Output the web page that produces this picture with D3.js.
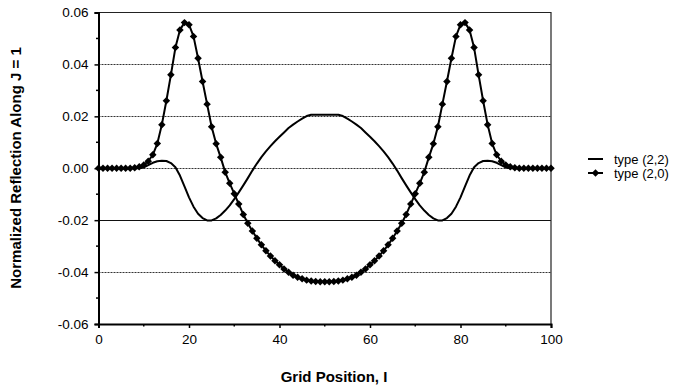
<!DOCTYPE html>
<html>
<head>
<meta charset="utf-8">
<script src="https://cdn.jsdelivr.net/npm/d3@7"></script>
<style>
  html, body { margin: 0; padding: 0; background: #fff; }
  svg { display: block; }
  text { font-family: "Liberation Sans", Arial, Helvetica, sans-serif; fill: #000; }
</style>
</head>
<body>
<svg id="chart" width="676" height="388"></svg>
<script>
// Grid position I = 0..100
const gridPositions = d3.range(0, 101);

// Normalized reflection along J = 1, type (2,2) boundary
const type22 = [
  0, 0, 0, 0, 0, 0, 0, 0, 0, 0,
  0.0003, 0.0012, 0.0021, 0.0027, 0.0029, 0.0028, 0.0020, 0.0004, -0.0028, -0.0070,
  -0.0112, -0.0148, -0.0175, -0.0192, -0.0201, -0.0201, -0.0193, -0.0180, -0.0163, -0.0143,
  -0.0119, -0.0093, -0.0066, -0.0038, -0.0009, 0.0018, 0.0043, 0.0065, 0.0085, 0.0104,
  0.0121, 0.0138, 0.0155, 0.0168, 0.0180, 0.0191, 0.0201, 0.0206, 0.0206, 0.0206,
  0.0206,
  0.0206, 0.0206, 0.0206, 0.0201, 0.0191, 0.0180, 0.0168, 0.0155, 0.0138, 0.0121,
  0.0104, 0.0085, 0.0065, 0.0043, 0.0018, -0.0009, -0.0038, -0.0066, -0.0093, -0.0119,
  -0.0143, -0.0163, -0.0180, -0.0193, -0.0201, -0.0201, -0.0192, -0.0175, -0.0148, -0.0112,
  -0.0070, -0.0028, 0.0004, 0.0020, 0.0028, 0.0029, 0.0027, 0.0021, 0.0012, 0.0003,
  0, 0, 0, 0, 0, 0, 0, 0, 0, 0
];

// Normalized reflection along J = 1, type (2,0) boundary
const type20 = [
  0, 0, 0, 0, 0, 0, 0, 0, 0.0002, 0.0006,
  0.0013, 0.0027, 0.0052, 0.0095, 0.0168, 0.0260, 0.0360, 0.0465, 0.0533, 0.0561,
  0.0553, 0.0508, 0.0424, 0.0334, 0.0247, 0.0160, 0.0094, 0.0042, -0.0015, -0.0058,
  -0.0098, -0.0138, -0.0178, -0.0212, -0.0242, -0.0270, -0.0295, -0.0318, -0.0338, -0.0356,
  -0.0372, -0.0388, -0.0401, -0.0412, -0.0420, -0.0426, -0.0431, -0.0434, -0.0436, -0.0437,
  -0.0437,
  -0.0437, -0.0436, -0.0434, -0.0431, -0.0426, -0.0420, -0.0412, -0.0401, -0.0388, -0.0372,
  -0.0356, -0.0338, -0.0318, -0.0295, -0.0270, -0.0242, -0.0212, -0.0178, -0.0138, -0.0098,
  -0.0058, -0.0015, 0.0042, 0.0094, 0.0160, 0.0247, 0.0334, 0.0424, 0.0508, 0.0553,
  0.0561, 0.0533, 0.0465, 0.0360, 0.0260, 0.0168, 0.0095, 0.0052, 0.0027, 0.0013,
  0.0006, 0.0002, 0, 0, 0, 0, 0, 0, 0, 0
];

const xTicks = [0, 20, 40, 60, 80, 100];
const xMinorTicks = [10, 30, 50, 70, 90];
const yTicks = [-0.06, -0.04, -0.02, 0.00, 0.02, 0.04, 0.06];
const yTickLabels = ["-0.06", "-0.04", "-0.02", "0.00", "0.02", "0.04", "0.06"];
const yMinorTicks = [-0.05, -0.03, -0.01, 0.01, 0.03, 0.05];
const seriesNames = ["type (2,2)", "type (2,0)"];

const svg = d3.select("#chart");
const plotLeft = 98.5, plotRight = 551, plotTop = 12.5, plotBottom = 324;

const x = d3.scaleLinear().domain([0, 100]).range([plotLeft, plotRight]);
const y = d3.scaleLinear().domain([-0.06, 0.06]).range([plotBottom, plotTop]);

// horizontal grid lines
const grid = svg.append("g");
grid.selectAll("line")
  .data(yTicks.filter(v => Math.abs(v) < 0.059))
  .join("line")
  .attr("x1", plotLeft).attr("x2", plotRight)
  .attr("y1", d => Math.round(y(d)) + 0.5).attr("y2", d => Math.round(y(d)) + 0.5)
  .attr("stroke", d => Math.abs(d + 0.02) < 1e-9 ? "#111" : "#333")
  .attr("stroke-width", 1)
  .attr("stroke-dasharray", d => Math.abs(d + 0.02) < 1e-9 ? null : "2,1");

// frame: top and right edges
svg.append("path")
  .attr("d", `M${plotLeft},${plotTop}H${plotRight}V${plotBottom}`)
  .attr("fill", "none").attr("stroke", "#222").attr("stroke-width", 1.2);

// axes
const xAxis = d3.axisBottom(x).tickValues(xTicks).tickSize(4).tickPadding(6)
  .tickFormat(d3.format("d"));
const gx = svg.append("g").attr("transform", `translate(0,${plotBottom})`).call(xAxis);
gx.select(".domain").attr("stroke-width", 2);
gx.selectAll(".tick line").attr("stroke-width", 1.5);
gx.selectAll(".tick text").attr("font-size", 13.5).attr("font-family", null);

svg.append("g").attr("transform", `translate(0,${plotBottom})`)
  .selectAll("line").data(xMinorTicks).join("line")
  .attr("x1", d => x(d)).attr("x2", d => x(d))
  .attr("y1", 0).attr("y2", 2.5)
  .attr("stroke", "#000").attr("stroke-width", 1.5);

const yAxis = d3.axisLeft(y).tickValues(yTicks).tickSize(4).tickPadding(6)
  .tickFormat((d, i) => yTickLabels[i]);
const gy = svg.append("g").attr("transform", `translate(${plotLeft},0)`).call(yAxis);
gy.select(".domain").attr("stroke-width", 2);
gy.selectAll(".tick line").attr("stroke-width", 1.5);
gy.selectAll(".tick text").attr("font-size", 13.5).attr("font-family", null);

svg.append("g").attr("transform", `translate(${plotLeft},0)`)
  .selectAll("line").data(yMinorTicks).join("line")
  .attr("x1", -2.5).attr("x2", 0)
  .attr("y1", d => y(d)).attr("y2", d => y(d))
  .attr("stroke", "#000").attr("stroke-width", 1.5);

svg.selectAll(".domain").attr("stroke", "#000");

// series lines
const line = d3.line().x((d, i) => x(gridPositions[i])).y(d => y(d));

svg.append("path").datum(type22)
  .attr("d", line).attr("fill", "none")
  .attr("stroke", "#000").attr("stroke-width", 2).attr("stroke-linejoin", "round");

svg.append("path").datum(type20)
  .attr("d", line).attr("fill", "none")
  .attr("stroke", "#000").attr("stroke-width", 2).attr("stroke-linejoin", "round");

// diamond markers on type (2,0)
const diamond = {
  draw(ctx, size) {
    const r = Math.sqrt(size / 2);
    ctx.moveTo(0, -r); ctx.lineTo(r, 0); ctx.lineTo(0, r); ctx.lineTo(-r, 0); ctx.closePath();
  }
};
const marker = d3.symbol().type(diamond).size(28);

svg.append("g").selectAll("path")
  .data(type20)
  .join("path")
  .attr("transform", (d, i) => `translate(${x(gridPositions[i])},${y(d)})`)
  .attr("d", marker)
  .attr("fill", "#000");

// axis titles
svg.append("text")
  .attr("x", 334).attr("y", 382)
  .attr("text-anchor", "middle")
  .attr("font-size", 15).attr("font-weight", "bold")
  .text("Grid Position, I");

svg.append("text")
  .attr("transform", "translate(21,168) rotate(-90)")
  .attr("text-anchor", "middle")
  .attr("font-size", 15).attr("font-weight", "bold")
  .text("Normalized Reflection Along J = 1");

// legend
const legend = svg.append("g");
const rows = legend.selectAll("g").data(seriesNames).join("g")
  .attr("transform", (d, i) => `translate(588,${159 + i * 14})`);
rows.append("line")
  .attr("x1", 0).attr("x2", 15).attr("y1", 0).attr("y2", 0)
  .attr("stroke", "#000").attr("stroke-width", 2);
rows.filter((d, i) => i === 1).append("path")
  .attr("transform", "translate(7.5,0)")
  .attr("d", marker).attr("fill", "#000");
rows.append("text")
  .attr("x", 26).attr("y", 0).attr("dy", "0.35em")
  .attr("font-size", 13)
  .text(d => d);
</script>
</body>
</html>
